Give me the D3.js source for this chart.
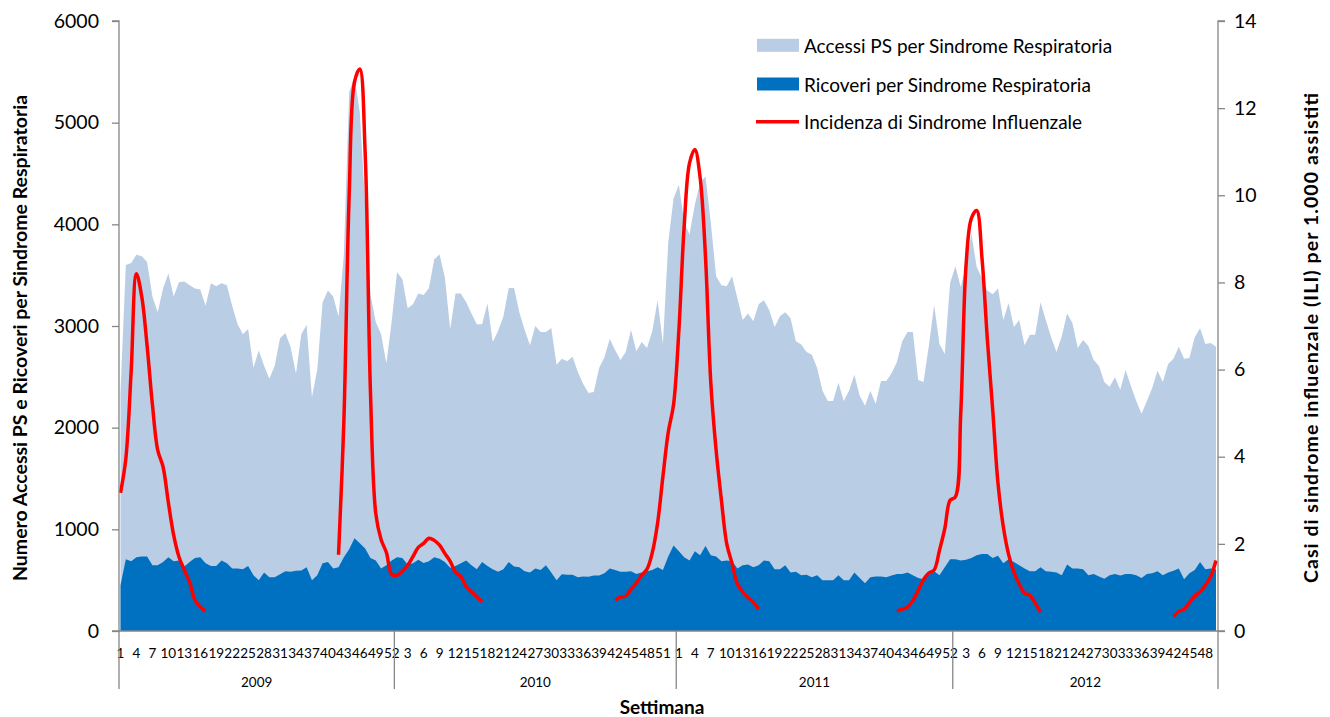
<!DOCTYPE html>
<html><head><meta charset="utf-8">
<script src="https://cdn.jsdelivr.net/npm/d3@7"></script>
<style>
html,body{margin:0;padding:0;background:#fff;}
svg{display:block;font-family:Lato,"Open Sans",sans-serif;}
</style></head>
<body><svg id="c" width="1330" height="717"></svg>
<script>
// ---- Data ----
const years = ["2009", "2010", "2011", "2012"];
const weeksPerYear = [52, 53, 52, 50];
const leftTicks = [0, 1000, 2000, 3000, 4000, 5000, 6000];
const rightTicks = [0, 2, 4, 6, 8, 10, 12, 14];
const seriesNames = ["Accessi PS per Sindrome Respiratoria", "Ricoveri per Sindrome Respiratoria", "Incidenza di Sindrome Influenzale"];

const accessi2009 = [2350,3600,3620,3700,3685,3630,3290,3136,3370,3516,3290,3430,3438,3400,3370,3360,3200,3420,3390,3420,3400,3200,3020,2920,2970,2590,2760,2610,2480,2610,2880,2930,2790,2530,2920,3010,2300,2570,3230,3350,3290,3090,3700,5300,5450,5100,4200,3310,3040,2920,2630,3050];
const accessi2010 = [3530,3460,3175,3215,3320,3305,3375,3657,3704,3477,2967,3320,3320,3234,3124,3018,3018,3222,2842,2952,3093,3375,3375,3136,2960,2810,3000,2940,2940,2980,2620,2677,2654,2697,2548,2430,2340,2352,2587,2693,2873,2764,2666,2744,2960,2752,2842,2783,2952,3254,2822,3822,4253];
const accessi2011 = [4390,4018,3900,4194,4410,4470,4018,3490,3400,3390,3490,3273,3058,3124,3046,3215,3254,3156,2990,3097,3136,3077,2850,2818,2744,2716,2587,2364,2262,2262,2442,2262,2364,2520,2313,2215,2364,2234,2458,2458,2536,2646,2850,2940,2940,2470,2450,2803,3203,2822,2724,3422];
const accessi2012 = [3587,3380,3606,3908,3580,3470,3350,3312,3370,3058,3226,2990,3058,2810,2913,2913,3234,3058,2889,2744,2900,3124,3030,2783,2862,2803,2666,2607,2450,2403,2497,2372,2568,2411,2262,2136,2262,2391,2560,2450,2626,2677,2795,2677,2685,2889,2979,2822,2834,2795];

const ricoveri2009 = [450,705,686,725,733,733,647,647,678,725,686,694,635,678,717,725,666,639,639,694,666,615,615,608,639,549,498,576,529,529,557,588,584,592,596,627,498,549,666,678,615,627,725,804,913,862,811,717,694,615,647,694];
const ricoveri2010 = [725,717,655,666,702,670,686,725,710,678,623,639,666,694,647,608,678,639,608,584,608,678,635,627,588,576,615,600,647,576,498,557,553,553,529,537,533,545,545,568,615,600,584,584,588,561,576,588,600,627,600,733,840];
const ricoveri2011 = [784,725,694,784,745,835,745,733,686,694,686,615,647,655,627,647,694,686,608,608,647,576,584,549,553,529,549,498,498,498,549,498,498,576,521,470,529,537,537,529,545,561,561,576,549,521,510,549,588,549,627,705];
const ricoveri2012 = [705,694,702,717,745,757,757,717,741,666,706,678,647,615,588,588,627,588,584,576,549,655,615,615,608,549,561,537,514,549,561,545,561,561,549,521,561,568,588,549,576,592,615,510,568,600,678,608,615,608];

const N = null;
const ili2009 = [3.17,3.95,5.94,8.2,7.67,6.55,5.2,4.15,3.77,2.95,2.2,1.7,1.4,1.12,0.71,0.55,0.46,
  N,N,N,N,N,N,N,N,N,N,N,N,N,N,N,N,N,N,N,N,N,N,N,N,
  1.75,4.8,10.0,12.6,12.9,11.0,5.5,2.7,2.1,1.8,1.3];
const ili2010 = [1.28,1.37,1.51,1.71,1.92,2.01,2.13,2.08,1.97,1.78,1.6,1.35,1.25,1.02,0.9,0.78,0.67,
  N,N,N,N,N,N,N,N,N,N,N,N,N,N,N,N,N,N,N,N,N,N,N,N,
  0.7,0.78,0.8,0.96,1.1,1.28,1.42,1.8,2.48,3.55,4.56,5.2];
const ili2011 = [6.9,9.3,10.74,11.05,10.4,8.6,5.7,4.15,3.0,2.0,1.55,1.08,0.9,0.77,0.66,0.5,
  N,N,N,N,N,N,N,N,N,N,N,N,N,N,N,N,N,N,N,N,N,N,N,N,N,
  0.46,0.5,0.55,0.7,0.93,1.18,1.33,1.4,1.85,2.35,3.0];
const ili2012 = [3.08,4.99,8.4,9.47,9.65,8.55,6.7,5.1,3.4,2.4,1.76,1.35,1.08,0.87,0.82,0.64,0.43,
  N,N,N,N,N,N,N,N,N,N,N,N,N,N,N,N,N,N,N,N,N,N,N,N,
  0.33,0.45,0.5,0.65,0.8,0.9,1.05,1.25,1.62];

// ---- Build table ----
const accessi = [].concat(accessi2009, accessi2010, accessi2011, accessi2012);
const ricoveri = [].concat(ricoveri2009, ricoveri2010, ricoveri2011, ricoveri2012);
const ili = [].concat(ili2009, ili2010, ili2011, ili2012);
const rows = [];
years.forEach((y, yi) => {
  for (let w = 1; w <= weeksPerYear[yi]; w++) rows.push({year: y, week: w});
});
rows.forEach((r, i) => { r.i = i; r.acc = accessi[i]; r.ric = ricoveri[i]; r.ili = ili[i]; });

// ---- Layout ----
const svg = d3.select("#c");
const plotL = 119, plotR = 1218, plotT = 21, plotB = 631;
const x = d3.scaleLinear().domain([0, rows.length - 1]).range([120.5, 1216]);
const yL = d3.scaleLinear().domain([0, 6000]).range([plotB, plotT]);
const yR = d3.scaleLinear().domain([0, 14]).range([plotB, plotT]);

const C_LIGHT = "#b9cde5", C_DARK = "#0070c0", C_RED = "#ff0000", C_AXIS = "#868686";

// areas
svg.append("path").datum(rows)
  .attr("fill", C_LIGHT)
  .attr("d", d3.area().x(d => x(d.i)).y0(yL(0)).y1(d => yL(d.acc)));
svg.append("path").datum(rows)
  .attr("fill", C_DARK)
  .attr("d", d3.area().x(d => x(d.i)).y0(yL(0)).y1(d => yL(d.ric)));

// ILI line
svg.append("path").datum(rows)
  .attr("fill", "none").attr("stroke", C_RED).attr("stroke-width", 3.5)
  .attr("stroke-linejoin", "round")
  .attr("d", d3.line().defined(d => d.ili !== null).x(d => x(d.i)).y(d => yR(d.ili))
    .curve(d3.curveCatmullRom.alpha(0.5)));

// left axis
const gL = svg.append("g").attr("transform", `translate(${plotL},0)`)
  .call(d3.axisLeft(yL).tickValues(leftTicks).tickSize(7).tickPadding(13).tickFormat(d3.format("d")));
gL.selectAll("path,line").attr("stroke", C_AXIS).attr("stroke-width", 1.3);
gL.select(".domain").attr("d", `M-7,${plotT}H0V${plotB}H-7`);
gL.selectAll("text").attr("font-family", "Lato").attr("font-size", 19.5).attr("fill", "#000");

// right axis
const gR = svg.append("g").attr("transform", `translate(${plotR},0)`)
  .call(d3.axisRight(yR).tickValues(rightTicks).tickSize(7).tickPadding(9));
gR.selectAll("path,line").attr("stroke", C_AXIS).attr("stroke-width", 1.3);
gR.select(".domain").attr("d", `M7,${plotT}H0V${plotB}H7`);
gR.selectAll("text").attr("font-family", "Lato").attr("font-size", 19.5).attr("fill", "#000");

// bottom axis
svg.append("line").attr("x1", plotL).attr("x2", plotR).attr("y1", plotB).attr("y2", plotB)
  .attr("stroke", C_AXIS).attr("stroke-width", 1.5);
const gX = svg.append("g");
gX.selectAll("text.wk").data(rows.filter(d => d.i % 3 === 0)).join("text")
  .attr("class", "wk")
  .attr("x", d => x(d.i)).attr("y", 653)
  .attr("text-anchor", "middle").attr("dominant-baseline", "central")
  .attr("font-size", 13.5).attr("fill", "#000")
  .text(d => d.week);

// year separators and labels
let start = 0;
const bounds = [];
weeksPerYear.forEach((n, yi) => {
  const a = yi === 0 ? plotL : (x(start - 1) + x(start)) / 2;
  const b = yi === years.length - 1 ? plotR : (x(start + n - 1) + x(start + n)) / 2;
  bounds.push({a, b, label: years[yi]});
  start += n;
});
const sepX = [plotL].concat(bounds.map(d => d.b));
gX.selectAll("line.sep").data(sepX).join("line").attr("class", "sep")
  .attr("x1", d => d).attr("x2", d => d).attr("y1", plotB).attr("y2", 689)
  .attr("stroke", C_AXIS).attr("stroke-width", 1.3);
gX.selectAll("text.yr").data(bounds).join("text").attr("class", "yr")
  .attr("x", d => (d.a + d.b) / 2).attr("y", 682)
  .attr("text-anchor", "middle").attr("dominant-baseline", "central")
  .attr("font-size", 13.5).attr("fill", "#000").text(d => d.label);

// axis titles
svg.append("text").attr("x", 662).attr("y", 706)
  .attr("text-anchor", "middle").attr("dominant-baseline", "central")
  .attr("font-size", 19).attr("font-weight", "bold").text("Settimana");
svg.append("text").attr("transform", "translate(19,338) rotate(-90)")
  .attr("text-anchor", "middle").attr("dominant-baseline", "central")
  .attr("font-size", 19.5).attr("font-weight", "bold")
  .text("Numero Accessi PS e Ricoveri per Sindrome Respiratoria");
svg.append("text").attr("transform", "translate(1310,338) rotate(-90)")
  .attr("text-anchor", "middle").attr("dominant-baseline", "central")
  .attr("font-size", 19.5).attr("font-weight", "bold")
  .attr("textLength", 490).attr("lengthAdjust", "spacing")
  .text("Casi di sindrome influenzale (ILI) per 1.000 assistiti");

// legend
const lg = svg.append("g");
const legY = [45.3, 84, 121.7];
lg.append("rect").attr("x", 757).attr("y", legY[0] - 6.5).attr("width", 42).attr("height", 13).attr("fill", C_LIGHT);
lg.append("rect").attr("x", 757).attr("y", legY[1] - 6.5).attr("width", 42).attr("height", 13).attr("fill", C_DARK);
lg.append("line").attr("x1", 756).attr("x2", 799).attr("y1", legY[2]).attr("y2", legY[2])
  .attr("stroke", C_RED).attr("stroke-width", 3.5);
lg.selectAll("text").data(seriesNames).join("text")
  .attr("x", 804).attr("y", (d, i) => legY[i])
  .attr("dominant-baseline", "central").attr("font-size", 19).attr("fill", "#000")
  .text(d => d);
</script>
</body></html>
